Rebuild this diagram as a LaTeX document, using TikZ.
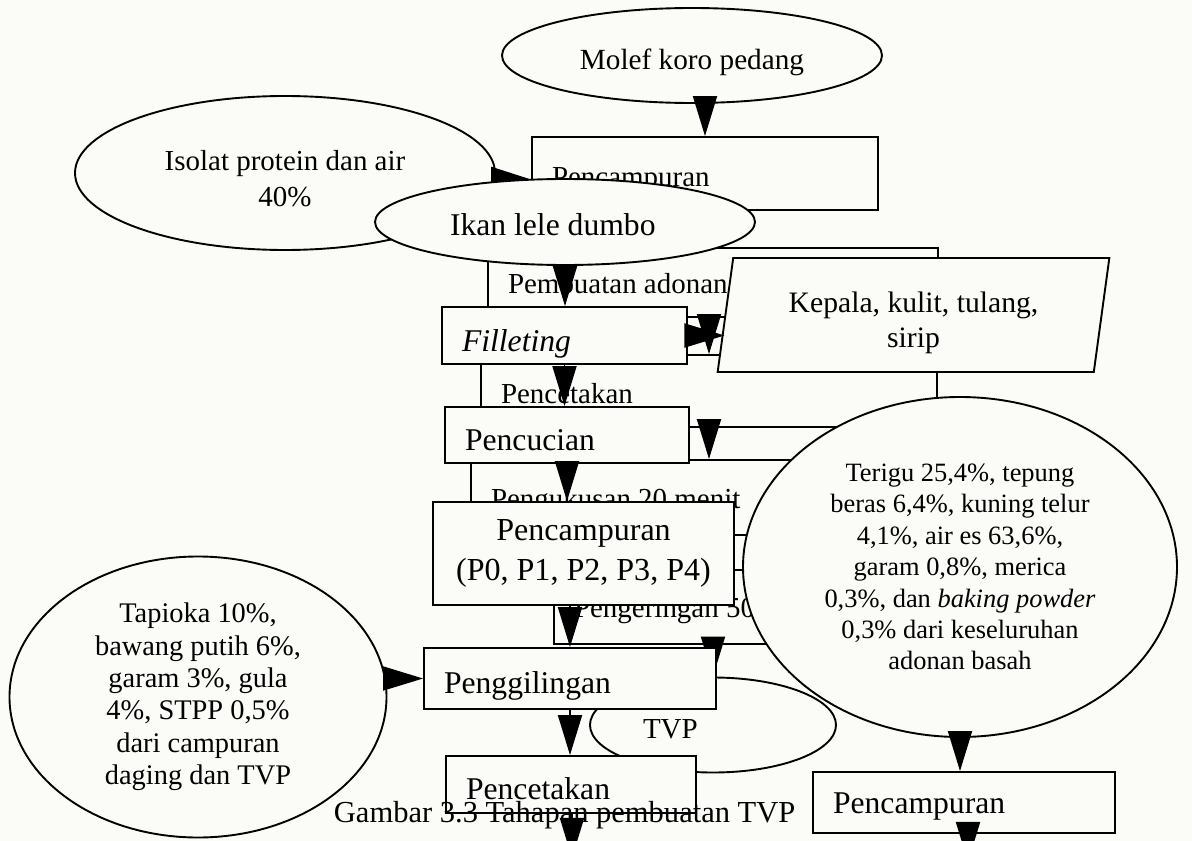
\documentclass[tikz,border=0pt]{standalone}
\usepackage{fontspec}
\setmainfont{Liberation Serif}
\usetikzlibrary{shapes.geometric,arrows.meta}
\newdimen\pxu \pxu=0.025cm
\newcommand{\bigtxt}{\fontsize{22.5}{28}\selectfont}
\newcommand{\midtxt}{\fontsize{20.6}{26}\selectfont}
\definecolor{paper}{RGB}{251,252,247}
\tikzset{
  stage/.style={draw, fill=paper, inner ysep=0pt, inner xsep=20*\pxu, align=flush left, font=\bigtxt},
  wh/.style 2 args={minimum width=#1*\pxu, minimum height=#2*\pxu, text width=(#1-40)*\pxu},
  blob/.style={ellipse, draw, fill=paper, inner sep=0pt, align=center, font=\midtxt},
  bline/.style={text height=#1*\pxu, text depth=0pt}
}

\begin{document}
\begin{tikzpicture}[x=0.025cm, y=-0.025cm, line width=1.35pt, >={Triangle[length=1cm,width=0.6cm]}]
	\useasboundingbox (0,0) rectangle (1192,841);
	\clip (0,0) rectangle (1192,841);
	\fill[paper] (0,0) rectangle (1192,841);
	% TVP flow, behind
	\node[blob, font=\fontsize{20.8}{25}\selectfont, minimum width=380*\pxu, minimum height=95*\pxu, bline=29] (molef) at (692,55.5) {Molef koro pedang};
	\node[stage, font=\midtxt, wh={346}{73}, bline=27] (pc1) at (705,173.5) {Pencampuran};
	\node[blob, minimum width=420*\pxu, minimum height=154*\pxu, align=flush center, text width=270*\pxu, text height=20*\pxu, text depth=26*\pxu] (iso) at (285,173) {Isolat protein dan air\\40\%\hspace*{0pt}};
	\node[stage, font=\midtxt, wh={450}{69}, bline=21] (pa) at (713,282.5) {Pembuatan adonan};
	\node[stage, font=\midtxt, wh={456}{72}, bline=24] (pt1) at (709,391) {Pencetakan};
	\node[stage, font=\midtxt, wh={456}{75}, bline=21] (pk) at (699,497.5) {Pengukusan 20 menit};
	\node[stage, font=\midtxt, wh={456}{74}, bline=20, inner xsep=15*\pxu] (pg) at (782,607) {Pengeringan 50};
	\draw[->] (pc1.north |- molef.south) -- (pc1.north);
	\draw[->] ([yshift=-0.15cm]iso.east) -- ([yshift=-0.15cm]pc1.west);
	\draw[->] (pc1.south) -- (pc1.south |- pa.north);
	\draw[->] (pt1.north |- pa.south) -- (pt1.north);
	\draw[->] (pt1.south) -- (pt1.south |- pk.north);
	\draw[->] (pt1.south |- pk.south) -- (pt1.south |- pg.north);
	% fish flow, in front
	\node[blob, font=\bigtxt, minimum width=380*\pxu, minimum height=86*\pxu, text width=230*\pxu, align=flush left, bline=26] (ikan) at (565,222) {Ikan lele dumbo};
	\node[stage, wh={245}{57}, bline=31] (fil) at (564.5,335.5) {\textit{Filleting}};
	\node[trapezium, trapezium left angle=75.3, trapezium right angle=104.7, trapezium stretches=true, draw, fill=paper, minimum width=393*\pxu, minimum height=114*\pxu, inner sep=0pt, align=flush center, text width=280*\pxu, text height=20*\pxu, text depth=26*\pxu, font=\fontsize{21.1}{25.6}\selectfont] (kep) at (913.5,315) {Kepala, kulit, tulang,\\sirip};
	\node[stage, wh={244}{56}, bline=30] (cuc) at (567,435) {Pencucian};
	\node[stage, wh={301}{103}, align=flush center, inner xsep=3*\pxu, text width=295*\pxu, font=\fontsize{22.8}{28.4}\selectfont] (pcP) at (583.5,553.5) {Pencampuran\\(P0, P1, P2, P3, P4)};
	\node[blob, minimum width=434*\pxu, minimum height=340*\pxu, font=\fontsize{18.8}{22.3}\selectfont] (ter) at (960,567) {Terigu 25,4\%, tepung\\beras 6,4\%, kuning telur\\4,1\%, air es 63,6\%,\\garam 0,8\%, merica\\0,3\%, dan \textit{baking powder}\\0,3\% dari keseluruhan\\adonan basah};
	\node[ellipse, draw, inner sep=0pt, minimum width=246*\pxu, minimum height=95*\pxu, text width=140*\pxu, align=flush left, font=\midtxt, bline=26] (tvp) at (713,725) {TVP};
	\draw[->] (tvp.north |- pg.south) -- (tvp.north);
	\node[stage, wh={292}{61}, bline=29] (gil) at (570,678.5) {Penggilingan};
	\node[stage, wh={250}{57}, bline=29] (cet) at (571,784.5) {Pencetakan};
	\node[stage, wh={302}{61}, bline=21] (pcR) at (964,802.5) {Pencampuran};
	\node[blob, minimum width=377*\pxu, minimum height=281*\pxu, font=\fontsize{20.2}{23}\selectfont] (tap) at (198,697) {Tapioka 10\%,\\bawang putih 6\%,\\garam 3\%, gula\\4\%, STPP 0,5\%\\dari campuran\\daging dan TVP};
	\node[anchor=base west, inner sep=0pt, font=\fontsize{21.7}{26}\selectfont] (cap) at (333,822) {Gambar 3.3 Tahapan pembuatan TVP};
	\coordinate (cetnext) at (572,858);
	\coordinate (pcRnext) at (968,862);
	\draw[->] (ikan.south) -- (ikan.south |- fil.north);
	\draw[->] (fil.east) -- (fil.east -| kep.west);
	\draw[->] (fil.south) -- (fil.south |- cuc.north);
	\draw[->] (cuc.south) -- (cuc.south |- pcP.north);
	\draw[->] (pcP.south -| gil.north) -- (gil.north);
	\draw[->] (tap.east |- gil.west) -- (gil.west);
	\draw[->] (gil.south) -- (gil.south |- cet.north);
	\draw[->] (cet.south -| cetnext) -- (cetnext);
	\draw[->] (ter.south) -- (ter.south |- pcR.north);
	\draw[->] (pcR.south -| pcRnext) -- (pcRnext);
\end{tikzpicture}
\end{document}
